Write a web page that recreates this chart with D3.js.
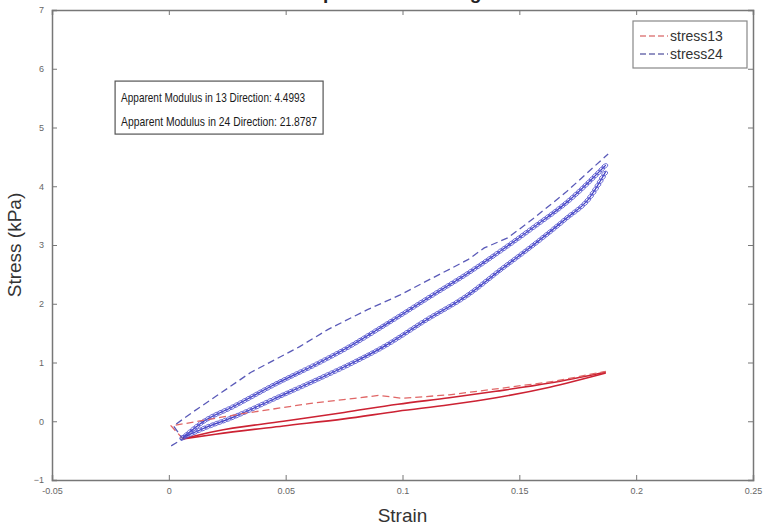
<!DOCTYPE html>
<html>
<head>
<meta charset="utf-8">
<script src="https://cdn.jsdelivr.net/npm/d3@7"></script>
<style>
  body { margin: 0; background: #fff; }
  svg { font-family: "Liberation Sans", Arial, sans-serif; }
</style>
</head>
<body>
<div id="chart"></div>
<script>
// stress13 curves (strain, stress kPa)
var red13Dash = [[0.006,-0.30],[0.001,-0.08],[0.03,0.12],[0.06,0.30],[0.09,0.44],[0.10,0.39],[0.12,0.45],[0.14,0.55],[0.165,0.68],[0.187,0.85]];
var red13Upper = [[0.006,-0.30],[0.02,-0.17],[0.049,0.0],[0.075,0.15],[0.098,0.29],[0.12,0.40],[0.14,0.51],[0.163,0.65],[0.187,0.84]];
var red13Lower = [[0.006,-0.30],[0.02,-0.22],[0.049,-0.08],[0.075,0.04],[0.098,0.17],[0.12,0.28],[0.14,0.40],[0.163,0.58],[0.187,0.82]];

// stress24 curves
var blue24Dash = [[0.001,-0.42],[0.006,-0.30],[0.002,-0.08],[0.01,0.15],[0.02,0.42],[0.035,0.83],[0.056,1.27],[0.068,1.56],[0.085,1.90],[0.099,2.15],[0.11,2.38],[0.128,2.75],[0.135,2.95],[0.145,3.12],[0.156,3.45],[0.17,3.90],[0.188,4.55]];
var blue24Upper = [[0.006,-0.28],[0.015,0.0],[0.0276,0.25],[0.045,0.62],[0.0635,0.98],[0.075,1.22],[0.095,1.70],[0.113,2.15],[0.128,2.52],[0.142,2.90],[0.156,3.30],[0.171,3.75],[0.187,4.36]];
var blue24Lower = [[0.006,-0.28],[0.015,-0.12],[0.0276,0.07],[0.045,0.38],[0.0635,0.71],[0.08,1.02],[0.092,1.27],[0.11,1.72],[0.128,2.15],[0.142,2.58],[0.156,3.00],[0.17,3.45],[0.18,3.80],[0.187,4.25]];

var xTicks = [-0.05, 0, 0.05, 0.1, 0.15, 0.2, 0.25];
var xTickLabels = ["-0.05", "0", "0.05", "0.1", "0.15", "0.2", "0.25"];
var yTicks = [-1, 0, 1, 2, 3, 4, 5, 6, 7];
var legendNames = ["stress13", "stress24"];
var annotations = ["Apparent Modulus in 13 Direction: 4.4993", "Apparent Modulus in 24 Direction: 21.8787"];

var width = 764, height = 528;
var margin = {top: 10, right: 11, bottom: 48, left: 52};
var w = width - margin.left - margin.right;
var h = height - margin.top - margin.bottom;

var svg = d3.select("#chart").append("svg")
    .attr("width", width)
    .attr("height", height);

// title, mostly above the window like in the original export
svg.append("text")
    .attr("x", margin.left + w / 2)
    .attr("y", -1)
    .attr("text-anchor", "middle")
    .style("font-size", "19px")
    .style("font-weight", "bold")
    .attr("fill", "#222")
    .text("Compression Loading Test");

var g = svg.append("g")
    .attr("transform", "translate(" + margin.left + "," + margin.top + ")");

var x = d3.scaleLinear().domain([-0.05, 0.25]).range([0, w]);
var y = d3.scaleLinear().domain([-1, 7]).range([h, 0]);

var axisColor = "#777";

// axes, matlab style ticks inward
g.append("g")
    .attr("transform", "translate(0," + h + ")")
    .call(d3.axisBottom(x).tickValues(xTicks).tickSize(-5).tickPadding(8)
        .tickFormat(function(d, i) { return xTickLabels[i]; }));
g.append("g")
    .call(d3.axisTop(x).tickValues(xTicks).tickSize(-5).tickFormat(""));
g.append("g")
    .call(d3.axisLeft(y).tickValues(yTicks).tickSize(-5).tickPadding(8));
g.append("g")
    .attr("transform", "translate(" + w + ",0)")
    .call(d3.axisRight(y).tickValues(yTicks).tickSize(-5).tickFormat(""));

g.selectAll(".domain").attr("stroke", axisColor).attr("stroke-width", 1.5);
g.selectAll(".tick line").attr("stroke", axisColor);
g.selectAll(".tick text").attr("fill", "#666").style("font-size", "9px");

var line = d3.line()
    .x(function(d) { return x(d[0]); })
    .y(function(d) { return y(d[1]); })
    .curve(d3.curveMonotoneX);
var lineRaw = d3.line()
    .x(function(d) { return x(d[0]); })
    .y(function(d) { return y(d[1]); });

// red solid loops
[red13Upper, red13Lower].forEach(function(s) {
    g.append("path").datum(s)
        .attr("d", line)
        .attr("fill", "none")
        .attr("stroke", "#cc2233")
        .attr("stroke-width", 1.6);
});

// blue loops with small open markers
[blue24Upper, blue24Lower].forEach(function(s) {
    var p = g.append("path").datum(s)
        .attr("d", line)
        .attr("fill", "none")
        .attr("stroke", "#3838c0")
        .attr("stroke-width", 1.2);
    var node = p.node();
    var len = node.getTotalLength();
    var pts = d3.range(0, len, 4.5).map(function(l) { return node.getPointAtLength(l); });
    g.append("g").selectAll("ellipse")
        .data(pts)
        .enter().append("ellipse")
        .attr("cx", function(d) { return d.x; })
        .attr("cy", function(d) { return d.y; })
        .attr("rx", 3.2)
        .attr("ry", 2)
        .attr("transform", function(d) { return "rotate(-30," + d.x + "," + d.y + ")"; })
        .attr("fill", "none")
        .attr("stroke", "#5a5ad0")
        .attr("stroke-width", 0.8);
});

// dashed first-cycle curves
g.append("path").datum(red13Dash)
    .attr("d", lineRaw)
    .attr("fill", "none")
    .attr("stroke", "#e06666")
    .attr("stroke-width", 1.3)
    .attr("stroke-dasharray", "7,4");
g.append("path").datum(blue24Dash)
    .attr("d", lineRaw)
    .attr("fill", "none")
    .attr("stroke", "#5a5ab8")
    .attr("stroke-width", 1.3)
    .attr("stroke-dasharray", "7,4");

// annotation box
var ann = g.append("g").attr("transform", "translate(" + x(-0.023) + "," + y(5.79) + ")");
ann.append("rect")
    .attr("width", 208).attr("height", 53)
    .attr("fill", "#fff").attr("stroke", "#555").attr("stroke-width", 1.2);
ann.selectAll("text").data(annotations).enter().append("text")
    .attr("x", 6)
    .attr("y", function(d, i) { return 21 + i * 24; })
    .attr("textLength", function(d, i) { return i ? 196 : 184; })
    .attr("lengthAdjust", "spacingAndGlyphs")
    .style("font-size", "13px")
    .attr("fill", "#1a1a1a")
    .text(function(d) { return d; });

// legend
var leg = g.append("g").attr("transform", "translate(" + (w - 120) + ",11)");
leg.append("rect")
    .attr("width", 114).attr("height", 47)
    .attr("fill", "#fff").attr("stroke", "#888").attr("stroke-width", 1.2);
var legColors = ["#e08080", "#7070b0"];
legendNames.forEach(function(name, i) {
    var yy = 15 + i * 18;
    leg.append("line")
        .attr("x1", 7).attr("x2", 35)
        .attr("y1", yy).attr("y2", yy)
        .attr("stroke", legColors[i])
        .attr("stroke-width", 1.3)
        .attr("stroke-dasharray", "6,3");
    leg.append("text")
        .attr("x", 37).attr("y", yy + 5)
        .style("font-size", "14px")
        .attr("fill", "#333")
        .text(name);
});

// axis labels
svg.append("text")
    .attr("x", margin.left + w / 2)
    .attr("y", 522)
    .attr("text-anchor", "middle")
    .style("font-size", "19px")
    .attr("fill", "#333")
    .text("Strain");
svg.append("text")
    .attr("transform", "translate(21," + (margin.top + h / 2) + ") rotate(-90)")
    .attr("text-anchor", "middle")
    .style("font-size", "19px")
    .attr("fill", "#333")
    .text("Stress (kPa)");
</script>
</body>
</html>
